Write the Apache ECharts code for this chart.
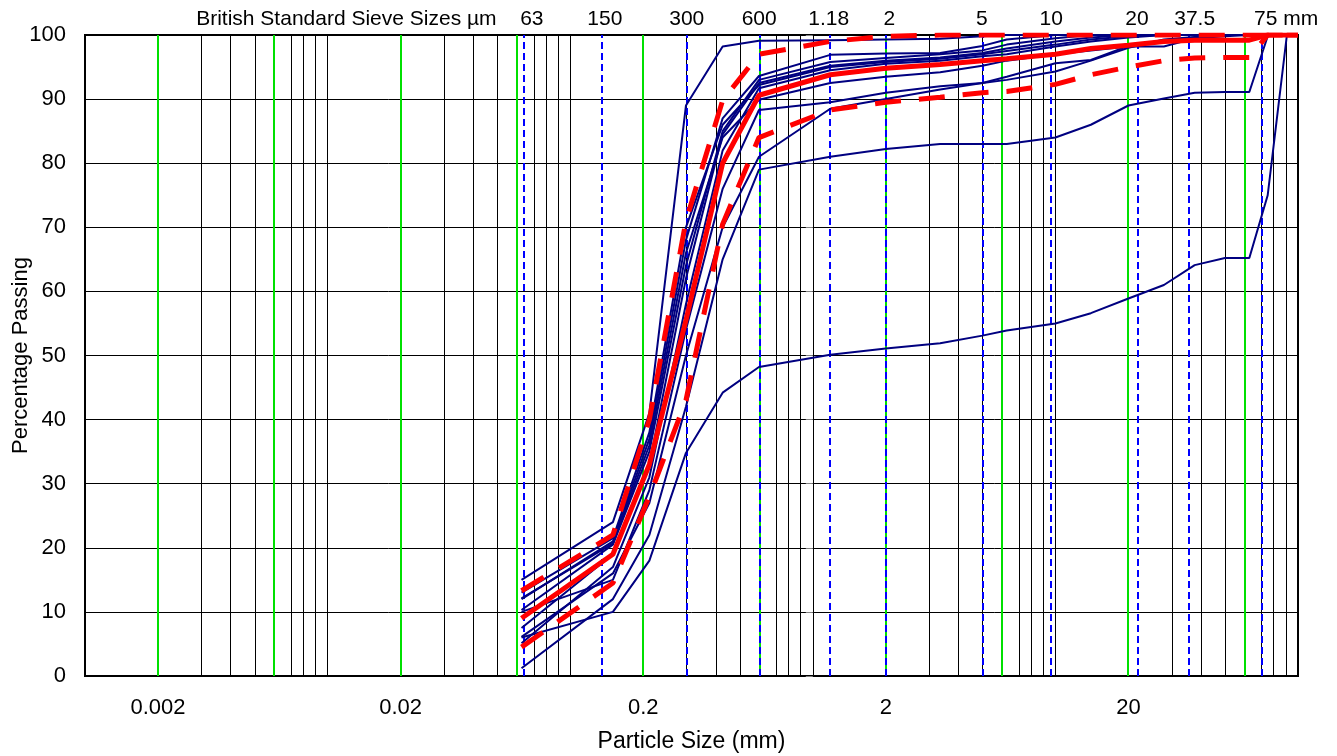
<!DOCTYPE html>
<html><head><meta charset="utf-8">
<script src="https://cdn.jsdelivr.net/npm/echarts@6/dist/echarts.min.js"></script>
<style>html,body{margin:0;padding:0;background:#fff}#c{width:1337px;height:756px}</style>
</head><body><div id="c"></div>
<script>
// ---- data (particle sizes in mm, percentage passing) ----
const sieveSizes = [0.063, 0.15, 0.212, 0.3, 0.425, 0.6, 1.18, 2, 3.35, 5, 6.3, 10, 14, 20, 28, 37.5, 50, 63, 75, 90, 100];

const blue1  = [15, 24, 41, 89, 98.2, 99.1, 99.2, 99.3, 99.4, 99.8, 100, 100, 100, 100, 100, 100, 100, 100, 100, 100, 100];
const blue2  = [12, 21, 37, 68, 87, 93.6, 96.9, 97.1, 97.2, 98.3, 99.3, 100, 100, 100, 100, 100, 100, 100, 100, 100, 100];
const blue3  = [10.3, 20.5, 35, 64, 85, 93, 95.8, 96.4, 97, 97.6, 98.5, 99.5, 100, 100, 100, 100, 100, 100, 100, 100, 100];
const blue4  = [7.5, 19, 33, 62, 84.5, 92.5, 95.2, 96, 96.5, 97.2, 97.9, 99, 99.6, 100, 100, 100, 100, 100, 100, 100, 100];
const blue5  = [5.1, 17, 31, 58, 82, 91.7, 94.5, 95.5, 96, 96.7, 97, 98.2, 99, 99.6, 100, 100, 100, 100, 100, 100, 100];
const blue6  = [12.1, 20.7, 36, 66, 84, 89.9, 92.5, 93.5, 94.2, 95.2, 96, 97, 97.6, 98.2, 98.2, 99.5, 99.8, 100, 100, 100, 100];
const blue7  = [10, 15, 29, 54, 76, 88.3, 89.5, 91, 92, 92.5, 93.5, 95.6, 96.1, 98.3, 99.2, 99.6, 100, 100, 100, 100, 100];
const blue8  = [6.1, 16, 27, 50, 70, 81, 88.5, 90, 91.5, 92.5, 93, 94.3, 96, 98, 99.3, 99.7, 100, 100, 100, 100, 100];
const blue9  = [1.2, 12, 22, 42, 65, 79, 81, 82.2, 83, 83, 83, 84, 86, 89, 90.1, 91, 91.1, 91.1, 99.8, 100, 100];
const blue10 = [6, 10, 18, 34.8, 44.2, 48.2, 50.1, 51.1, 51.9, 53.1, 53.9, 55, 56.6, 58.9, 61, 64.1, 65.2, 65.2, 75, 100, 100];
const blue11 = [13, 21.5, 38, 70, 86, 92.2, 95, 95.8, 96.3, 97, 97.5, 98.5, 99.3, 99.8, 100, 100, 100, 100, 100, 100, 100];

const redFine   = [13.3, 22, 40, 71, 89.8, 97, 99, 99.8, 100, 100, 100, 100, 100, 100, 100, 100, 100, 100, 100, 100, 100];
const redMiddle = [9, 19, 33, 55.5, 80, 90.6, 93.8, 94.8, 95.4, 96, 96.3, 97, 97.9, 98.4, 99, 99.2, 99.2, 99.2, 100, 100, 100];
const redCoarse = [4.5, 14.5, 28, 43, 70.5, 84, 88.3, 89.5, 90.3, 91, 91.2, 92.3, 93.8, 95, 96, 96.4, 96.5, 96.5, 100, 100, 100];

// bottom axis labels (mm)
const xTickValues = [0.002, 0.02, 0.2, 2, 20];
const xTickLabels = ['0.002', '0.02', '0.2', '2', '20'];
// soil classification boundaries (green lines, mm)
const classBoundaries = [0.002, 0.006, 0.02, 0.06, 0.2, 0.6, 2, 6, 20, 60];
// British Standard sieve reference lines as drawn (mm)
const sieveLines = [0.065, 0.136, 0.302, 0.596, 1.163, 1.988, 5.06, 9.56, 22.0, 35.7, 71.4];
// top labels and where they sit (mm)
const sieveLabelText = ['British Standard Sieve Sizes µm', '63', '150', '300', '600', '1.18', '2', '5', '10', '20', '37.5', '75 mm'];
const sieveLabelPos  = [0.01195, 0.0695, 0.1389, 0.3023, 0.601, 1.163, 2.07, 4.98, 9.61, 21.7, 37.5, 89.3];
const yMin = 0, yMax = 100, yStep = 10;
const xMinMM = 0.001, xMaxMM = 100;

// ---- build ----
const L = Math.log10;
const FONT = 'Liberation Sans, Arial, sans-serif';
const minorGrid = [];
for (let k = -3; k <= 1; k++) for (let m = 1; m <= 9; m++) {
  const v = m * Math.pow(10, k);
  if (v > xMinMM * 1.0001 && v < xMaxMM * 0.9999) minorGrid.push(v);
}
function lookup(vals, labels, v) {
  for (let i = 0; i < vals.length; i++) if (Math.abs(L(vals[i]) - v) < 1e-6) return labels[i];
  return '';
}
function vline(values, style, z) {
  return {
    type: 'line', data: [[L(xMinMM), -10]], symbol: 'none', silent: true, z: z,
    lineStyle: { opacity: 0 },
    markLine: {
      silent: true, symbol: ['none', 'none'], label: { show: false }, animation: false,
      emphasis: { disabled: true },
      lineStyle: style,
      data: values.map(v => ({ xAxis: L(v) }))
    }
  };
}
const curves = [];
[blue1, blue2, blue3, blue4, blue5, blue6, blue7, blue8, blue9, blue10, blue11].forEach((arr, i) => {
  curves.push({
    type: 'line', name: 'B' + (i + 1), symbol: 'none', z: 10,
    data: sieveSizes.map((s, j) => [L(s), arr[j]]),
    lineStyle: { color: '#000080', width: 2 }
  });
});
[[redFine, [26, 18]], [redMiddle, 'solid'], [redCoarse, [26, 18]]].forEach((r, i) => {
  curves.push({
    type: 'line', name: 'R' + (i + 1), symbol: 'none', z: 11,
    data: sieveSizes.map((s, j) => [L(s), r[0][j]]),
    lineStyle: { color: '#FF0000', width: 5, type: r[1], cap: 'butt' }
  });
});

const chart = echarts.init(document.getElementById('c'), null, { renderer: 'canvas' });
chart.setOption({
  animation: false,
  backgroundColor: '#fff',
  textStyle: { fontFamily: FONT },
  grid: { left: 85, right: 39, top: 35, bottom: 80, outerBoundsMode: 'none', containLabel: false,
    show: true, borderColor: '#000', borderWidth: 2, backgroundColor: 'transparent' },
  xAxis: [{
    type: 'value', min: L(xMinMM), max: L(xMaxMM), position: 'bottom',
    axisLine: { show: false }, axisTick: { show: false }, splitLine: { show: false },
    axisLabel: { customValues: xTickValues.map(L), formatter: v => lookup(xTickValues, xTickLabels, v),
      color: '#000', fontSize: 22, fontFamily: FONT, margin: 21 },
    name: 'Particle Size (mm)', nameLocation: 'middle', nameGap: 54, nameMoveOverlap: false,
    nameTextStyle: { color: '#000', fontSize: 23, fontFamily: FONT }
  }, {
    type: 'value', min: L(xMinMM), max: L(xMaxMM), position: 'top',
    axisLine: { show: false }, axisTick: { show: false }, splitLine: { show: false },
    axisLabel: { customValues: sieveLabelPos.map(L), formatter: v => lookup(sieveLabelPos, sieveLabelText, v),
      color: '#000', fontSize: 21, fontFamily: FONT, margin: 5 }
  }],
  yAxis: {
    type: 'value', min: yMin, max: yMax, interval: yStep,
    axisLine: { show: false },
    axisTick: { show: true, inside: false, length: 7, lineStyle: { color: '#808080', width: 1 } },
    splitLine: { show: true, lineStyle: { color: '#000', width: 1 } },
    axisLabel: { color: '#000', fontSize: 22, fontFamily: FONT, margin: 19 },
    name: 'Percentage Passing', nameLocation: 'middle', nameGap: 53, nameMoveOverlap: false,
    nameTextStyle: { color: '#000', fontSize: 22, fontFamily: FONT }
  },
  series: [
    vline(minorGrid, { color: '#000', width: 1, type: 'solid' }, 1),
    vline(classBoundaries, { color: '#00E000', width: 2, type: 'solid' }, 2),
    vline(sieveLines, { color: '#0000FF', width: 2, type: [7, 4] }, 3)
  ].concat(curves)
});
</script></body></html>
